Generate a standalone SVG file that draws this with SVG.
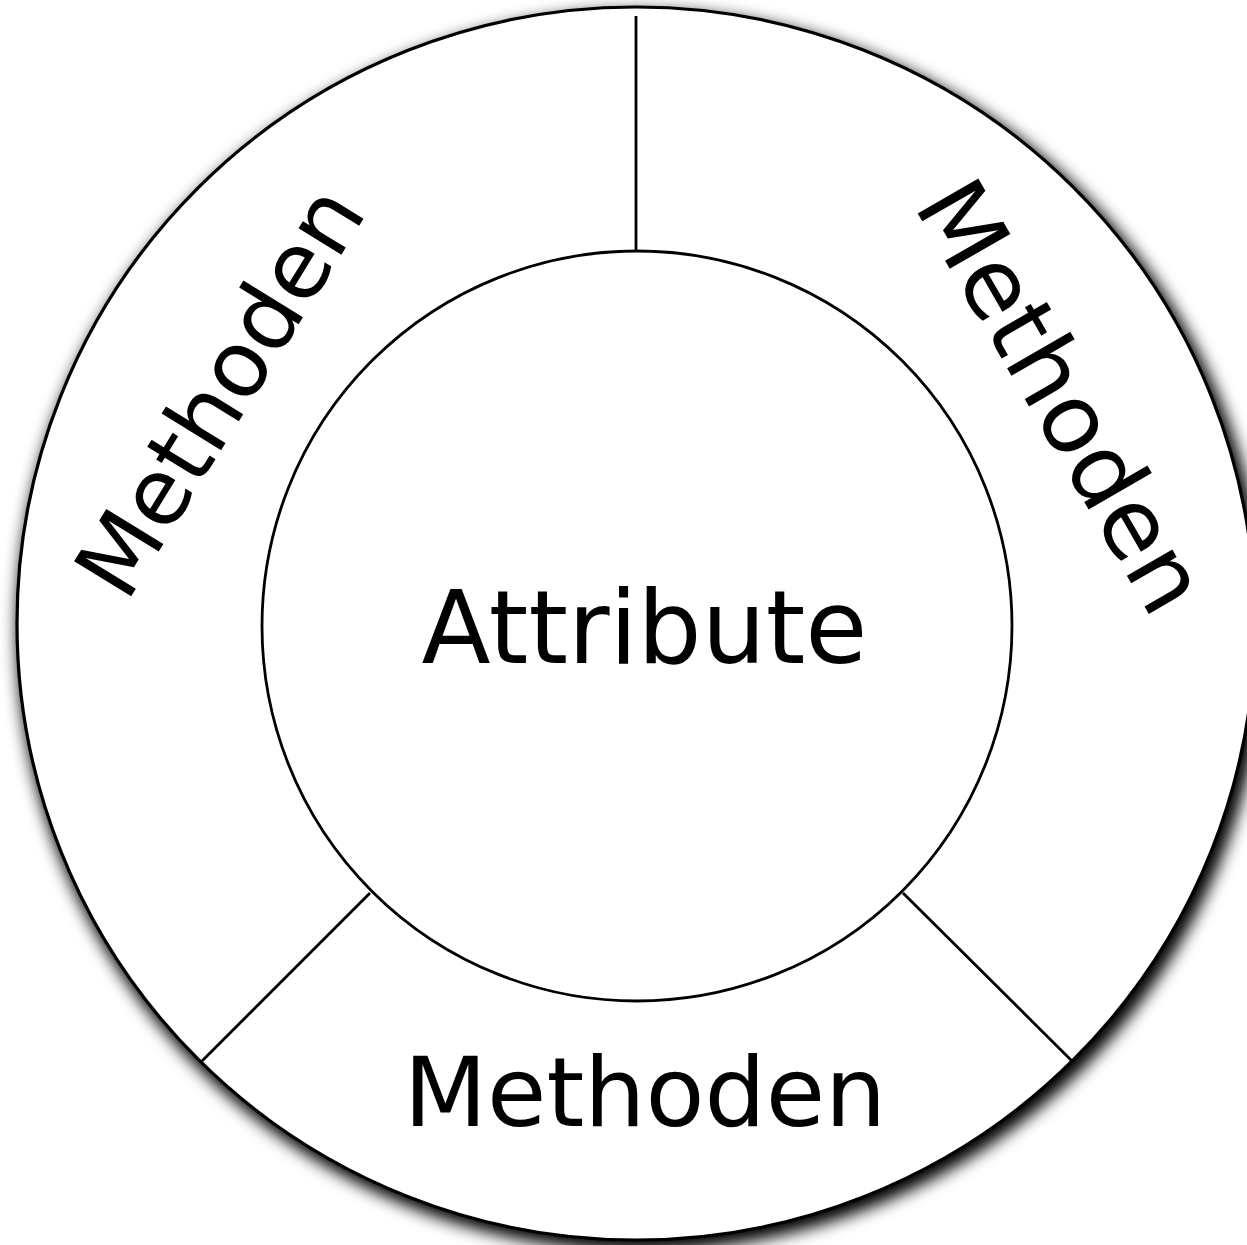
<svg xmlns="http://www.w3.org/2000/svg" width="1247" height="1245" viewBox="0 0 1247 1245">
  <defs>
    <filter id="shadow" x="-10%" y="-10%" width="120%" height="120%">
      <feGaussianBlur stdDeviation="8"/>
    </filter>
    <style>
      .ring { fill: #ffffff; stroke: #000000; stroke-width: 3.2; }
      .core { fill: #ffffff; stroke: #000000; stroke-width: 2.8; }
      .divider { stroke: #000000; stroke-width: 2.8; fill: none; }
      .label { font-family: "DejaVu Sans", "Liberation Sans", sans-serif; fill: #000000; text-anchor: middle; }
    </style>
  </defs>
  <rect width="1247" height="1245" fill="#ffffff"/>

  <!-- outer ring: methods, with a soft drop shadow -->
  <g id="methods-ring">
    <ellipse cx="641" cy="631" rx="624" ry="620" fill="#000000" filter="url(#shadow)"/>
    <ellipse class="ring" cx="636" cy="623.5" rx="619" ry="616.5"/>
  </g>

  <!-- dividers between the three method sectors -->
  <g id="connectors">
    <line class="divider" x1="636" y1="16" x2="636" y2="251"/>
    <line class="divider" x1="370" y1="893" x2="202" y2="1061"/>
    <line class="divider" x1="903" y1="893" x2="1073" y2="1062"/>
  </g>

  <!-- inner circle: attributes -->
  <g id="attributes">
    <circle class="core" cx="637" cy="626" r="375"/>
    <text class="label" x="644.5" y="663" font-size="101">Attribute</text>
  </g>

  <g id="methods-left">
    <text class="label" x="247" y="408" font-size="92" transform="rotate(-58.4 247 408)">Methoden</text>
  </g>

  <g id="methods-right">
    <text class="label" x="1033" y="413" font-size="96" transform="rotate(60 1033 413)">Methoden</text>
  </g>

  <g id="methods-bottom">
    <text class="label" x="645" y="1126" font-size="96.5">Methoden</text>
  </g>
</svg>
